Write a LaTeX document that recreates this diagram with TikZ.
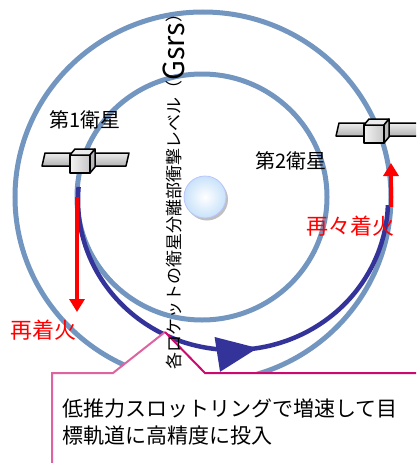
\documentclass[tikz,border=0pt]{standalone}
\usepackage{fontspec}
\newfontfamily\jpfont{Noto Sans CJK JP}
\usetikzlibrary{arrows.meta,decorations.markings}

\definecolor{ringblue}{RGB}{114,150,192}
\definecolor{xferblue}{RGB}{51,51,153}
\definecolor{calloutpink}{RGB}{204,10,110}
\definecolor{calloutlight}{RGB}{222,100,160}
\definecolor{earthblue}{RGB}{200,226,250}

% satellite: two panels and a cube, centred on the front face
\newcommand{\drawsat}[1]{%
\begin{scope}[shift={#1}]
  \draw[panel] (-38,2) -- (-35,-11) -- (-7,-11) -- (-9,2) -- cycle;
  \draw[panel] (9,2) -- (11,-11) -- (49,-11) -- (46,2) -- cycle;
  \draw[boxface, left color=gray!10, right color=gray!45] (-10,-9) rectangle (10,9);
  \draw[boxface, fill=gray!15] (-10,-9) -- (-5,-15) -- (15,-15) -- (10,-9) -- cycle;
  \draw[boxface, fill=gray!55] (10,-9) -- (15,-15) -- (15,3) -- (10,9) -- cycle;
\end{scope}}

\begin{document}
\begin{tikzpicture}[x=1pt,y=-1pt]
\tikzstyle{every node}=[font=\jpfont]
\tikzstyle{ring}=[draw=ringblue, line width=5pt]
\tikzstyle{xfer}=[draw=xferblue, line width=4.5pt]
\tikzstyle{burn}=[red, line width=3.5pt, -{Triangle[width=15pt,length=13pt]}]
\tikzstyle{panel}=[draw=black, line width=1.5pt, line join=round, top color=gray!15, bottom color=gray!60]
\tikzstyle{boxface}=[draw=black, line width=1.5pt, line join=round]
\tikzstyle{satname}=[font=\jpfont\fontsize{20}{24}\selectfont]
\tikzstyle{firing}=[text=red, font=\jpfont\fontsize{22}{26}\selectfont]
\tikzstyle{callout}=[line width=2pt, line join=miter]

\useasboundingbox (0,0) rectangle (416,463);
\clip (0,0) rectangle (416,463);

% orbits
\coordinate (center) at (203,197);
\draw[ring] (center) ellipse [x radius=188, y radius=185];
\draw[ring] (202,197) ellipse [x radius=125, y radius=123];

% earth
\fill[gray!50] (207,199.5) circle (21);
\node (earth) [circle, minimum size=42pt, inner sep=0, draw=earthblue!70!blue!60, line width=0.8pt,
  inner color=white, outer color=earthblue] at (205,197) {};

% transfer orbit
\coordinate (xferstart) at (78.6,186.9);
\draw[xfer, postaction={decorate}, decoration={markings,
  mark=at position 0.57 with {\arrow{Triangle[length=41pt,width=34pt]}}}]
  (xferstart) arc[start angle=185, end angle=2, x radius=155, y radius=150];

% burns
\coordinate (burnA) at (77,197);
\coordinate (burnAend) at (77,312);
\coordinate (burnB) at (391,207);
\coordinate (burnBend) at (391,163);
\draw[burn] (burnA) -- (burnAend);
\draw[burn] (burnB) -- (burnBend);

% satellites
\drawsat{(80,164)}
\drawsat{(374,134)}

\node (sat1) [satname] at (85,120) {第1衛星};
\node (sat2) [satname] at (291,161) {第2衛星};
\node (fire1) [firing] at (43,330) {再着火};
\node (fire2) [firing] at (350,226) {再々着火};

% callout
\coordinate (tip) at (165,332);
\fill[white] (52,470) -- (52,373) -- (113,373) -- (tip) -- (205,373) -- (425,373) -- (425,470) -- cycle;
\draw[callout, draw=calloutlight] (52,470) -- (52,373) -- (113,373) -- (tip);
\draw[callout, draw=calloutpink] (tip) -- (205,373) -- (425,373);
\node (note) [anchor=north west, align=left, inner sep=0,
  font=\jpfont\fontsize{21}{27}\selectfont] at (62,399)
  {低推力スロットリングで増速して目\\標軌道に高精度に投入};

\node (gsrs) [rotate=90, anchor=base west, inner sep=0,
  font=\jpfont\fontsize{17}{17}\selectfont] at (180,370)
  {各ロケットの衛星分離部衝撃レベル（\raisebox{-4pt}{\fontsize{29}{29}\selectfont Gsrs}）};
\end{tikzpicture}
\end{document}
